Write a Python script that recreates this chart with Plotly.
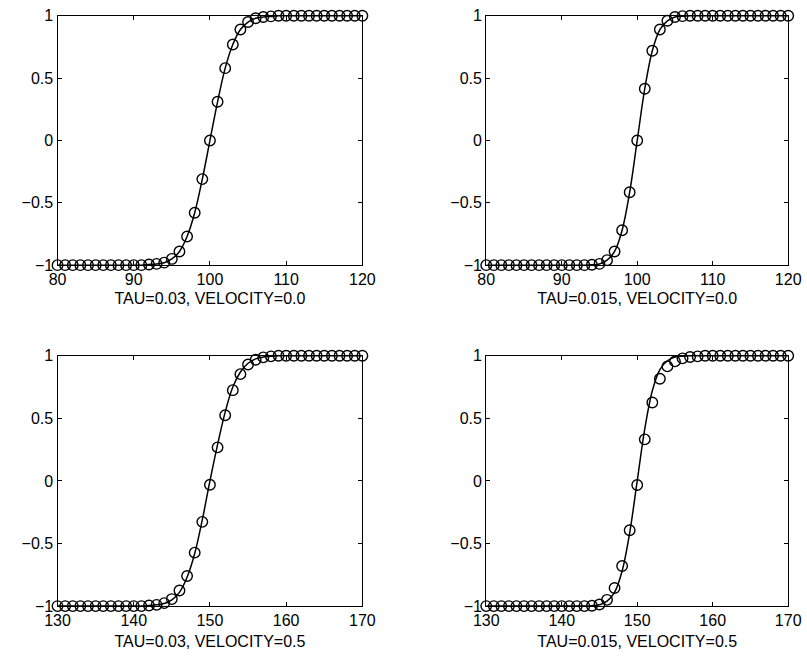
import plotly.graph_objects as go

# ---- data ----
x_top = list(range(80, 121))
x_bot = list(range(130, 171))

# TAU=0.03, VELOCITY=0.0
circ_tl = [-1, -1, -1, -1, -1, -1, -1, -1, -1, -1, -1, -1, -0.995, -0.99, -0.98, -0.95, -0.89, -0.77, -0.58, -0.31,
           0.0, 0.31, 0.58, 0.77, 0.89, 0.95, 0.98, 0.99, 0.995, 1, 1, 1, 1, 1, 1, 1, 1, 1, 1, 1, 1]
line_tl = circ_tl

# TAU=0.015, VELOCITY=0.0
circ_tr = [-1, -1, -1, -1, -1, -1, -1, -1, -1, -1, -1, -1, -1, -1, -0.997, -0.99, -0.96, -0.89, -0.72, -0.415,
           0.0, 0.415, 0.72, 0.89, 0.96, 0.99, 0.997, 1, 1, 1, 1, 1, 1, 1, 1, 1, 1, 1, 1, 1, 1]
line_tr = circ_tr

# TAU=0.03, VELOCITY=0.5
circ_bl = [-1, -1, -1, -1, -1, -1, -1, -1, -1, -1, -1, -1, -0.995, -0.99, -0.976, -0.944, -0.875, -0.76, -0.573, -0.327,
           -0.031, 0.268, 0.525, 0.725, 0.853, 0.93, 0.968, 0.987, 0.995, 1, 1, 1, 1, 1, 1, 1, 1, 1, 1, 1, 1]
line_bl = [-1, -1, -1, -1, -1, -1, -1, -1, -1, -1, -1, -1, -0.995, -0.99, -0.98, -0.95, -0.89, -0.77, -0.58, -0.31,
           0.0, 0.29, 0.55, 0.75, 0.87, 0.94, 0.975, 0.99, 0.996, 1, 1, 1, 1, 1, 1, 1, 1, 1, 1, 1, 1]

# TAU=0.015, VELOCITY=0.5
circ_br = [-1, -1, -1, -1, -1, -1, -1, -1, -1, -1, -1, -1, -1, -1, -0.997, -0.987, -0.95, -0.856, -0.68, -0.394,
           -0.033, 0.332, 0.626, 0.816, 0.915, 0.955, 0.979, 0.99, 0.995, 1, 1, 1, 1, 1, 1, 1, 1, 1, 1, 1, 1]
line_br = [-1, -1, -1, -1, -1, -1, -1, -1, -1, -1, -1, -1, -1, -1, -0.997, -0.99, -0.96, -0.89, -0.72, -0.415,
           0.0, 0.415, 0.72, 0.89, 0.96, 0.99, 0.997, 1, 1, 1, 1, 1, 1, 1, 1, 1, 1, 1, 1, 1, 1]

titles = ["TAU=0.03, VELOCITY=0.0", "TAU=0.015, VELOCITY=0.0",
          "TAU=0.03, VELOCITY=0.5", "TAU=0.015, VELOCITY=0.5"]
xticks_top = [80, 90, 100, 110, 120]
xticks_bot = [130, 140, 150, 160, 170]
yticks = [-1, -0.5, 0, 0.5, 1]
ytext = ["\u22121", "\u22120.5", "0", "0.5", "1"]

panels = [
    (x_top, line_tl, circ_tl, xticks_top),
    (x_top, line_tr, circ_tr, xticks_top),
    (x_bot, line_bl, circ_bl, xticks_bot),
    (x_bot, line_br, circ_br, xticks_bot),
]

W, H = 807, 656
xdom = [[46 / W, 361 / W], [489 / W, 801 / W]]
ydom = [[1 - 264 / H, 1 - 8 / H], [1 - 614 / H, 1 - 357 / H]]
standoffs = [5, 5, 7, 7]

fig = go.Figure()
font = dict(family="Liberation Sans, Arial, sans-serif", size=16, color="black")

for i, (xs, ln, cc, xt) in enumerate(panels):
    n = i + 1
    xa = "x" if n == 1 else f"x{n}"
    ya = "y" if n == 1 else f"y{n}"
    fig.add_trace(go.Scatter(x=xs, y=ln, mode="lines", line=dict(color="black", width=1.5, shape="spline"),
                             xaxis=xa, yaxis=ya, showlegend=False, cliponaxis=False))
    fig.add_trace(go.Scatter(x=xs, y=cc, mode="markers",
                             marker=dict(symbol="circle-open", size=10.5, color="black", line=dict(width=1.4, color="black")),
                             xaxis=xa, yaxis=ya, showlegend=False, cliponaxis=False))
    row = i // 2
    col = i % 2
    xkey = "xaxis" if n == 1 else f"xaxis{n}"
    ykey = "yaxis" if n == 1 else f"yaxis{n}"
    fig.layout[xkey] = dict(domain=xdom[col], anchor=ya, range=[xt[0], xt[-1]], tickvals=xt,
                            ticks="inside", ticklen=4, tickcolor="black", tickwidth=1,
                            showline=True, linecolor="black", linewidth=1.2, mirror="ticks",
                            showgrid=False, zeroline=False, tickfont=font,
                            title=dict(text=titles[i], font=font, standoff=standoffs[i]))
    fig.layout[ykey] = dict(domain=ydom[row], anchor=xa, range=[-1, 1], tickvals=yticks, ticktext=ytext,
                            ticks="inside", ticklen=4, tickcolor="black", tickwidth=1,
                            showline=True, linecolor="black", linewidth=1.2, mirror="ticks",
                            showgrid=False, zeroline=False, tickfont=font)

fig.update_layout(width=W, height=H, margin=dict(l=0, r=0, t=0, b=0),
                  plot_bgcolor="white", paper_bgcolor="white", font=font)
fig.write_html("out.html")
